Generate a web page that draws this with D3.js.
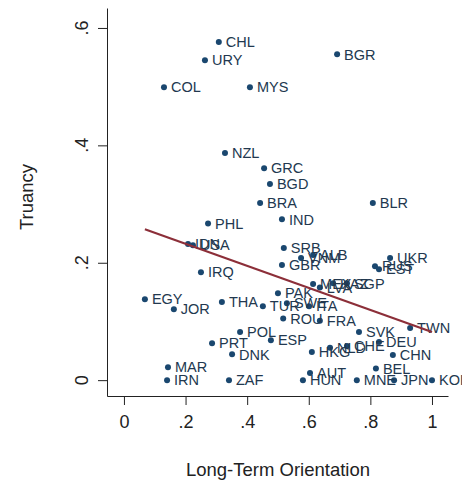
<!DOCTYPE html>
<html>
<head>
<meta charset="utf-8">
<script src="https://cdn.jsdelivr.net/npm/d3@7"></script>
<style>
  html, body { margin: 0; padding: 0; background: #fff; }
  svg { display: block; font-family: "Liberation Sans", Arial, Helvetica, sans-serif; }
</style>
</head>
<body>
<svg id="chart" width="462" height="484"></svg>
<script>
// Country codes, long-term orientation scores and truancy rates
const countries = ["CHL","URY","COL","MYS","BGR","NZL","GRC","BGD","BRA","IND","BLR","PHL",
  "IDN","USA","SRB","GBR","VNM","ALB","UKR","RUS","EST","IRQ","EGY","JOR","THA","TUR","PAK",
  "SWE","ITA","ROU","FRA","MEX","LVA","KAZ","SGP","SVK","TWN","DEU","CHE","NLD","HKG","CHN",
  "ESP","POL","PRT","DNK","MAR","IRN","ZAF","BEL","AUT","HUN","MNE","JPN","KOR"];
const lto = [0.308,0.263,0.130,0.409,0.692,0.328,0.455,0.474,0.442,0.513,0.808,0.273,
  0.208,0.224,0.519,0.513,0.575,0.614,0.864,0.815,0.828,0.250,0.068,0.162,0.318,0.451,0.500,
  0.529,0.601,0.517,0.636,0.614,0.636,0.679,0.724,0.763,0.929,0.828,0.724,0.669,0.610,0.873,
  0.477,0.377,0.286,0.351,0.143,0.140,0.341,0.818,0.604,0.581,0.756,0.877,1.000];
const truancy = [0.576,0.545,0.499,0.499,0.555,0.387,0.361,0.334,0.302,0.274,0.302,0.267,
  0.232,0.230,0.225,0.196,0.208,0.213,0.208,0.194,0.189,0.184,0.138,0.121,0.133,0.126,0.148,
  0.131,0.126,0.105,0.101,0.164,0.158,0.165,0.165,0.082,0.089,0.065,0.058,0.055,0.048,0.043,
  0.068,0.082,0.063,0.044,0.022,0.000,0.000,0.020,0.012,0.000,0.000,0.000,0.000];

// Linear fit endpoints
const fitX = [0.068, 1.000];
const fitY = [0.257, 0.082];

const xTicks = [0, 0.2, 0.4, 0.6, 0.8, 1];
const yTicks = [0, 0.2, 0.4, 0.6];
const fmt = v => v === 0 ? "0" : (v === 1 ? "1" : String(v).replace(/^0/, ""));

const svg = d3.select("#chart");
const navy = "#1a476f";
const ink = "#222";

const x = d3.scaleLinear().domain([-0.055, 1.052]).range([107, 448]);
const y = d3.scaleLinear().domain([-0.027, 0.634]).range([396, 8]);

// x axis
const gx = svg.append("g").attr("transform", "translate(0,396)")
  .call(d3.axisBottom(x).tickValues(xTicks).tickFormat(fmt).tickSize(9).tickSizeOuter(0).tickPadding(10));
gx.select(".domain").attr("stroke", ink);
gx.selectAll(".tick line").attr("stroke", ink);
gx.selectAll(".tick text").attr("fill", ink).style("font-size", "18px")
  .style("font-family", "'Liberation Sans', Arial, sans-serif");

// y axis
const gy = svg.append("g").attr("transform", "translate(107,0)")
  .call(d3.axisLeft(y).tickValues(yTicks).tickFormat("").tickSize(9).tickSizeOuter(0));
gy.select(".domain").attr("stroke", ink);
gy.selectAll(".tick line").attr("stroke", ink);
svg.append("g").selectAll("text").data(yTicks).join("text")
  .attr("transform", d => `translate(88,${y(d)}) rotate(-90)`)
  .attr("text-anchor", "middle")
  .attr("fill", ink)
  .style("font-size", "18px")
  .text(fmt);

// axis titles
svg.append("text")
  .attr("transform", `translate(33,197) rotate(-90)`)
  .attr("text-anchor", "middle").attr("fill", ink).style("font-size", "18.5px")
  .text("Truancy");
svg.append("text")
  .attr("x", 278).attr("y", 476)
  .attr("text-anchor", "middle").attr("fill", ink).style("font-size", "18.5px")
  .text("Long-Term Orientation");

// points with country labels
const pts = countries.map((c, i) => ({c, x: lto[i], y: truancy[i]}));
svg.append("g").selectAll("circle").data(pts).join("circle")
  .attr("cx", d => x(d.x)).attr("cy", d => y(d.y)).attr("r", 3)
  .attr("fill", navy);
svg.append("g").selectAll("text").data(pts).join("text")
  .attr("x", d => x(d.x) + 7).attr("y", d => y(d.y)).attr("dy", "0.36em")
  .attr("fill", "#22384f").style("font-size", "14.5px")
  .text(d => d.c);

// fitted line
svg.append("path")
  .datum(fitX.map((v, i) => [v, fitY[i]]))
  .attr("d", d3.line().x(d => x(d[0])).y(d => y(d[1])))
  .attr("stroke", "#8c2f39").attr("stroke-width", 2.2).attr("fill", "none");
</script>
</body>
</html>
